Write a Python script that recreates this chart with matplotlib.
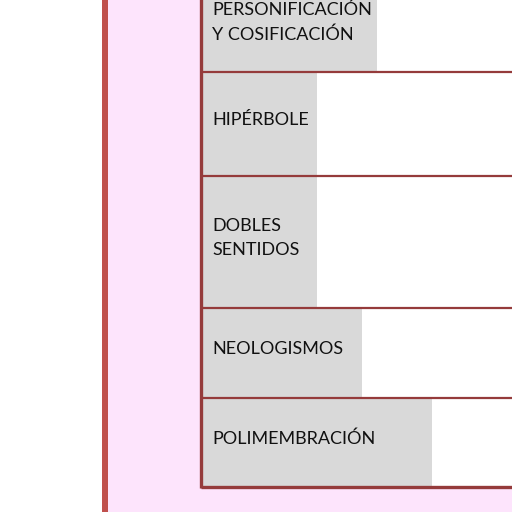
import matplotlib.pyplot as plt

# Row labels, top to bottom (first row is cut off by the top edge)
categories = ["PERSONIFICACIÓN\nY COSIFICACIÓN", "HIPÉRBOLE", "DOBLES\nSENTIDOS",
              "NEOLOGISMOS", "POLIMEMBRACIÓN"]
# Row boundaries (pixel rows) and where each gray cell ends
row_edges = [-20, 72, 176, 308, 398, 487]
gray_ends = [377, 317, 317, 362, 432]

table_left = 201
pink = '#fde4fc'
border = '#953b3b'

fig = plt.figure(figsize=(5.12, 5.12), dpi=100)
ax = fig.add_axes([0, 0, 1, 1])
ax.set_xlim(0, 512)
ax.set_ylim(512, 0)
ax.axis('off')

# background: white strip at left, red rule, pink page
ax.axvspan(0, 102, color='white', lw=0)
ax.axvspan(102, 512, color=pink, lw=0)
ax.axvspan(102, 108, color='#c0504d', lw=0)

# table body
ax.fill_between([table_left, 520], row_edges[0], row_edges[-1], color='white', lw=0)
for i, label in enumerate(categories):
    top, bot = row_edges[i], row_edges[i + 1]
    ax.barh((top + bot) / 2, gray_ends[i] - table_left, left=table_left,
            height=bot - top, color='#d9d9d9', lw=0)
    ax.text(212, (top + bot) / 2 - 4, label, fontsize=13, family='Lato',
            va='center', ha='left', color='#111111', linespacing=1.62)

for y in row_edges[1:-1]:
    ax.plot([table_left, 520], [y, y], color=border, lw=1.6, solid_capstyle='butt')
ax.plot([table_left, 520], [row_edges[-1]] * 2, color=border, lw=2.4, solid_capstyle='butt')
ax.plot([table_left, table_left], [row_edges[0], row_edges[-1] + 1], color=border, lw=2.4,
        solid_capstyle='butt')

fig.savefig('out.png', dpi=100)
